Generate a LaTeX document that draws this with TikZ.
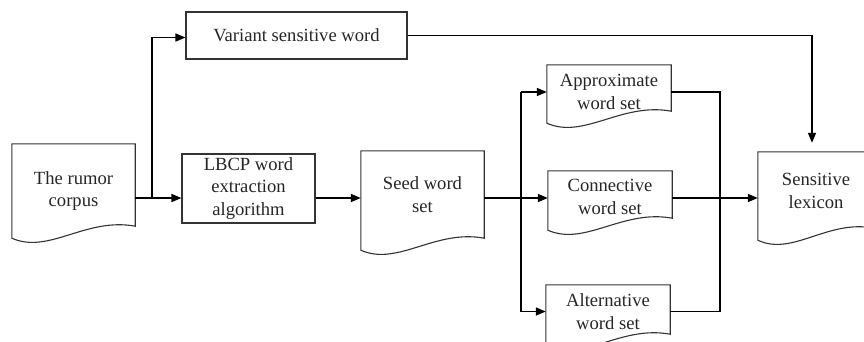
\documentclass[tikz,border=0pt]{standalone}
\usepackage{fontspec}
\setmainfont{Liberation Serif}
\usetikzlibrary{arrows.meta,calc}
\tikzset{
  boxnode/.style={draw=black!80, line width=1.1pt, inner sep=0pt, align=center, text=black!85},
  docnode/.style={inner sep=0pt, align=center, text=black!85},
  docline/.style={draw=black!80, line width=1.1pt},
  conn/.style={line width=1.6pt, black},
  arr/.style={conn, -{Triangle[length=10pt,width=8pt]}}
}
\newcommand\docpath[2]{%
  \path (#1.south west) ++(0,#2) coordinate (#1bl);
  \path (#1.south east) ++(0,{#2-12}) coordinate (#1br);
  \draw[docline] (#1.north east) -- (#1.north west) -- (#1bl)
    .. controls ($(#1bl)!0.3!(#1br)+(0,20)$) and ($(#1bl)!0.6!(#1br)+(0,-14)$) .. (#1br) -- cycle;
}
\begin{document}
\begin{tikzpicture}[x=1pt,y=-1pt,font=\fontsize{18.6}{22.5}\selectfont]
\useasboundingbox (0,0) rectangle (864,341);
% nodes
\node[docnode, minimum width=123pt, minimum height=94pt] (corpus) at (73.5,191) {The rumor\\corpus};
\node[boxnode, minimum width=221pt, minimum height=47pt] (variant) at (296.5,35.5) {Variant sensitive word};
\node[boxnode, minimum width=133pt, minimum height=69pt] (lbcp) at (248.5,188.5) {LBCP word\\extraction\\algorithm};
\node[docnode, minimum width=123pt, minimum height=87pt] (seed) at (422.5,194.5) {Seed word\\set};
\node[docnode, minimum width=124pt, minimum height=54pt] (approx) at (609,92) {Approximate\\word set};
\node[docnode, minimum width=124pt, minimum height=52pt] (connw) at (610,197) {Connective\\word set};
\node[docnode, minimum width=124pt, minimum height=53pt] (alt) at (608,311.5) {Alternative\\word set};
\node[docnode, minimum width=116pt, minimum height=78pt] (sens) at (816,191) {Sensitive\\lexicon};
% document outlines
\docpath{corpus}{0}
\docpath{seed}{12}
\docpath{approx}{4}
\docpath{connw}{7}
\docpath{alt}{8}
\docpath{sens}{10}
% junctions
\coordinate (j1) at (152,198);
\coordinate (bus) at (521,198);
\coordinate (rbus) at (720,198);
% connectors
\draw[arr] (corpus.east |- j1) -- (lbcp.west |- j1);
\draw[arr] (j1) |- ([yshift=-2pt]variant.west);
\draw[arr] (lbcp.east |- j1) -- (seed.west |- j1);
\draw[arr] (seed.east |- j1) -- (connw.west |- j1);
\draw[arr] (bus |- approx.west) -- (approx.west);
\draw[conn] (bus |- approx.west) -- (bus |- alt.west);
\draw[arr] (bus |- alt.west) -- (alt.west);
\draw[conn] (approx.east) -| (rbus);
\draw[conn] (alt.east) -| (rbus);
\draw[arr] (connw.east |- j1) -- (sens.west |- j1);
\draw[arr] (variant.east) -| ([xshift=-4pt,yshift=9pt]sens.north);
\end{tikzpicture}
\end{document}
